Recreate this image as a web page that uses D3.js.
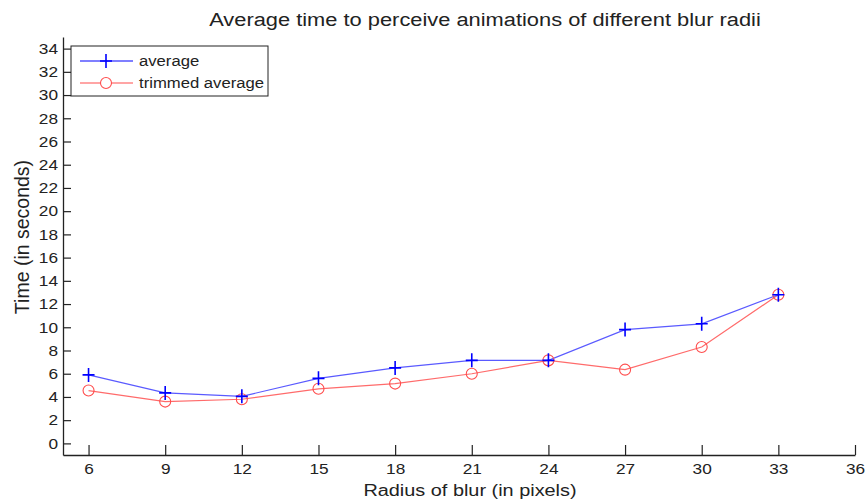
<!DOCTYPE html>
<html>
<head>
<meta charset="utf-8">
<script src="https://cdn.jsdelivr.net/npm/d3@7"></script>
<style>
body { margin: 0; background: #fff; }
text { font-family: "Liberation Sans", Arial, sans-serif; fill: #222; }
</style>
</head>
<body>
<svg width="865" height="501"></svg>
<script>
let radii = [6, 9, 12, 15, 18, 21, 24, 27, 30, 33];
let average = [5.9, 4.35, 4.05, 5.6, 6.5, 7.15, 7.15, 9.8, 10.3, 12.8];
let trimmed = [4.55, 3.6, 3.8, 4.7, 5.15, 6.0, 7.15, 6.35, 8.3, 12.8];
let xTicks = [6, 9, 12, 15, 18, 21, 24, 27, 30, 33, 36];
let yTicks = d3.range(0, 35, 2);

let svg = d3.select("svg"),
    margin = {top: 37, right: 10, bottom: 46, left: 63},
    width = 855 - margin.left,
    height = 455 - margin.top,
    k = 1.15; // the original figure's text is a bit wide

// widen a text horizontally around its own anchor
function stretch(sel) {
    sel.each(function () {
        let t = d3.select(this),
            tx = +t.attr("x") || 0;
        t.attr("x", tx / k).attr("transform", "scale(" + k + ",1)");
    });
}

let g = svg.append("g")
    .attr("transform", "translate(" + [margin.left, margin.top] + ")");

let x = d3.scaleLinear().domain([5, 36]).range([0, width]);
let y = d3.scaleLinear().domain([-1, 35]).range([height, 0]);

// axes, MATLAB style ticks pointing inward
let xAxis = d3.axisBottom(x).tickValues(xTicks).tickSizeInner(-10).tickSizeOuter(0).tickPadding(8);
let yAxis = d3.axisLeft(y).tickValues(yTicks).tickSizeInner(-8).tickSizeOuter(0).tickPadding(5);

let gx = g.append("g").attr("transform", "translate(0," + height + ")").call(xAxis);
let gy = g.append("g").call(yAxis);
[gx, gy].forEach(a => {
    a.select(".domain").attr("stroke", "#222").attr("stroke-width", 1.3);
    a.selectAll(".tick line").attr("stroke", "#222").attr("stroke-width", 1.2);
    a.selectAll(".tick text").style("font-size", "15px").attr("fill", "#222")
        .style("font-family", "'Liberation Sans', Arial, sans-serif")
        .call(stretch);
});

let line = d3.line().x((d, i) => x(radii[i])).y(d => y(d));

g.append("path").datum(trimmed)
    .attr("fill", "none").attr("stroke", "#ff6b6b").attr("stroke-width", 1.2)
    .attr("d", line);
g.append("path").datum(average)
    .attr("fill", "none").attr("stroke", "#5a5aff").attr("stroke-width", 1.2)
    .attr("d", line);

g.selectAll(".circ").data(trimmed).enter().append("circle")
    .attr("class", "circ")
    .attr("cx", (d, i) => x(radii[i])).attr("cy", d => y(d)).attr("r", 5.5)
    .attr("fill", "none").attr("stroke", "#ff4d4d").attr("stroke-width", 1.1);

g.selectAll(".plus").data(average).enter().append("path")
    .attr("class", "plus")
    .attr("transform", (d, i) => "translate(" + [x(radii[i]), y(d)] + ")")
    .attr("d", "M-6,0H6M0,-7V7")
    .attr("stroke", "#0000ff").attr("stroke-width", 1.6).attr("fill", "none");

// legend
let leg = svg.append("g").attr("transform", "translate(71,46)");
leg.append("rect").attr("width", 197).attr("height", 50)
    .attr("fill", "#fff").attr("stroke", "#222").attr("stroke-width", 1);
leg.append("line").attr("x1", 9).attr("x2", 62).attr("y1", 15).attr("y2", 15)
    .attr("stroke", "#0000ff").attr("stroke-width", 1.2);
leg.append("path").attr("transform", "translate(35,15)").attr("d", "M-6,0H6M0,-7V7")
    .attr("stroke", "#0000ff").attr("stroke-width", 1.6);
leg.append("text").attr("x", 68).attr("y", 15).attr("dy", "0.35em")
    .style("font-size", "14.5px").text("average").call(stretch);
leg.append("line").attr("x1", 9).attr("x2", 62).attr("y1", 37).attr("y2", 37)
    .attr("stroke", "#ff4d4d").attr("stroke-width", 1.2);
leg.append("circle").attr("cx", 35).attr("cy", 37).attr("r", 5.5)
    .attr("fill", "#fff").attr("stroke", "#ff4d4d").attr("stroke-width", 1.1);
leg.append("text").attr("x", 68).attr("y", 37).attr("dy", "0.35em")
    .style("font-size", "14.5px").text("trimmed average").call(stretch);

// titles
svg.append("text").attr("x", 485).attr("y", 26).attr("text-anchor", "middle")
    .style("font-size", "19px").text("Average time to perceive animations of different blur radii")
    .call(stretch);
svg.append("text").attr("x", 470).attr("y", 496).attr("text-anchor", "middle")
    .style("font-size", "17.3px").text("Radius of blur (in pixels)")
    .call(stretch);
svg.append("text").attr("transform", "translate(29,237) rotate(-90)").attr("text-anchor", "middle")
    .style("font-size", "19.5px").text("Time (in seconds)");
</script>
</body>
</html>
